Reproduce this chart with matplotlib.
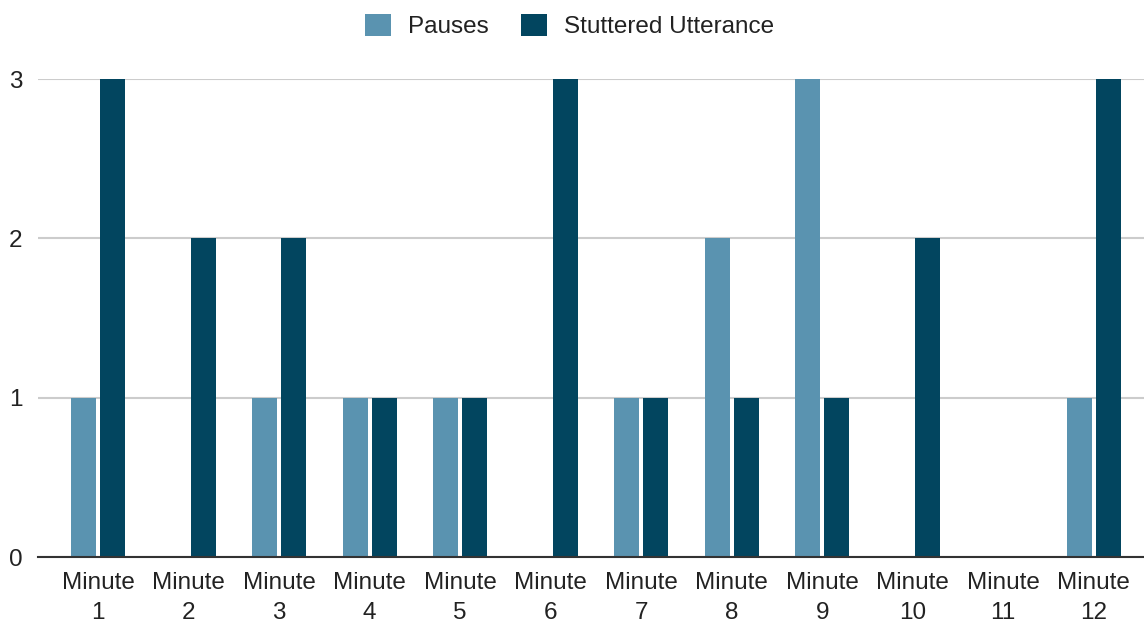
import matplotlib
matplotlib.use("Agg")
import matplotlib.pyplot as plt
from matplotlib.patches import Patch
import numpy as np

categories = ["Minute\n1", "Minute\n2", "Minute\n3", "Minute\n4", "Minute\n5", "Minute\n6",
              "Minute\n7", "Minute\n8", "Minute\n9", "Minute\n10", "Minute\n11", "Minute\n12"]
pauses = [1, 0, 1, 1, 1, 0, 1, 2, 3, 0, 0, 1]
stuttered = [3, 2, 2, 1, 1, 3, 1, 1, 1, 2, 0, 3]
series_names = ["Pauses", "Stuttered Utterance"]
colors = ["#5a93b0", "#02455f"]
yticks = [0, 1, 2, 3]

plt.rcParams["font.family"] = ["Liberation Sans", "DejaVu Sans"]

fig = plt.figure(figsize=(11.44, 6.24), dpi=100)
ax = fig.add_axes([38 / 1144, 1 - 557 / 624, 1 - 38 / 1144, (557 - 79) / 624])

x = np.arange(len(categories))
width = 0.276
offset = 0.16

ax.bar(x - offset, pauses, width=width, color=colors[0], zorder=3, label=series_names[0])
ax.bar(x + offset, stuttered, width=width, color=colors[1], zorder=3, label=series_names[1])

ax.set_xlim(-0.663, 11.555)
ax.set_ylim(0, 3)
ax.set_yticks(yticks)
ax.set_xticks(x)
ax.set_xticklabels(categories, fontsize=17.5, color="#222222", linespacing=1.45)
ax.set_yticklabels([str(t) for t in yticks], fontsize=17.5, color="#222222")
ax.tick_params(axis="both", length=0)
ax.tick_params(axis="x", pad=11)
ax.tick_params(axis="y", pad=11)

ax.grid(axis="y", color="#cccccc", linewidth=1.5, zorder=0)
ax.set_axisbelow(True)
for s in ["top", "right", "left"]:
    ax.spines[s].set_visible(False)
ax.spines["bottom"].set_color("#333333")
ax.spines["bottom"].set_linewidth(1.5)
ax.spines["bottom"].set_zorder(4)

handles = [Patch(facecolor=c, edgecolor="none") for c in colors]
fig.legend(handles, series_names, loc="center", bbox_to_anchor=(569.5 / 1144, 1 - 26 / 624),
           ncol=2, frameon=False, fontsize=17.5, handlelength=1.05, handleheight=1.05,
           handletextpad=0.7, columnspacing=1.36, labelcolor="#222222")

fig.savefig("out.png", dpi=100)
